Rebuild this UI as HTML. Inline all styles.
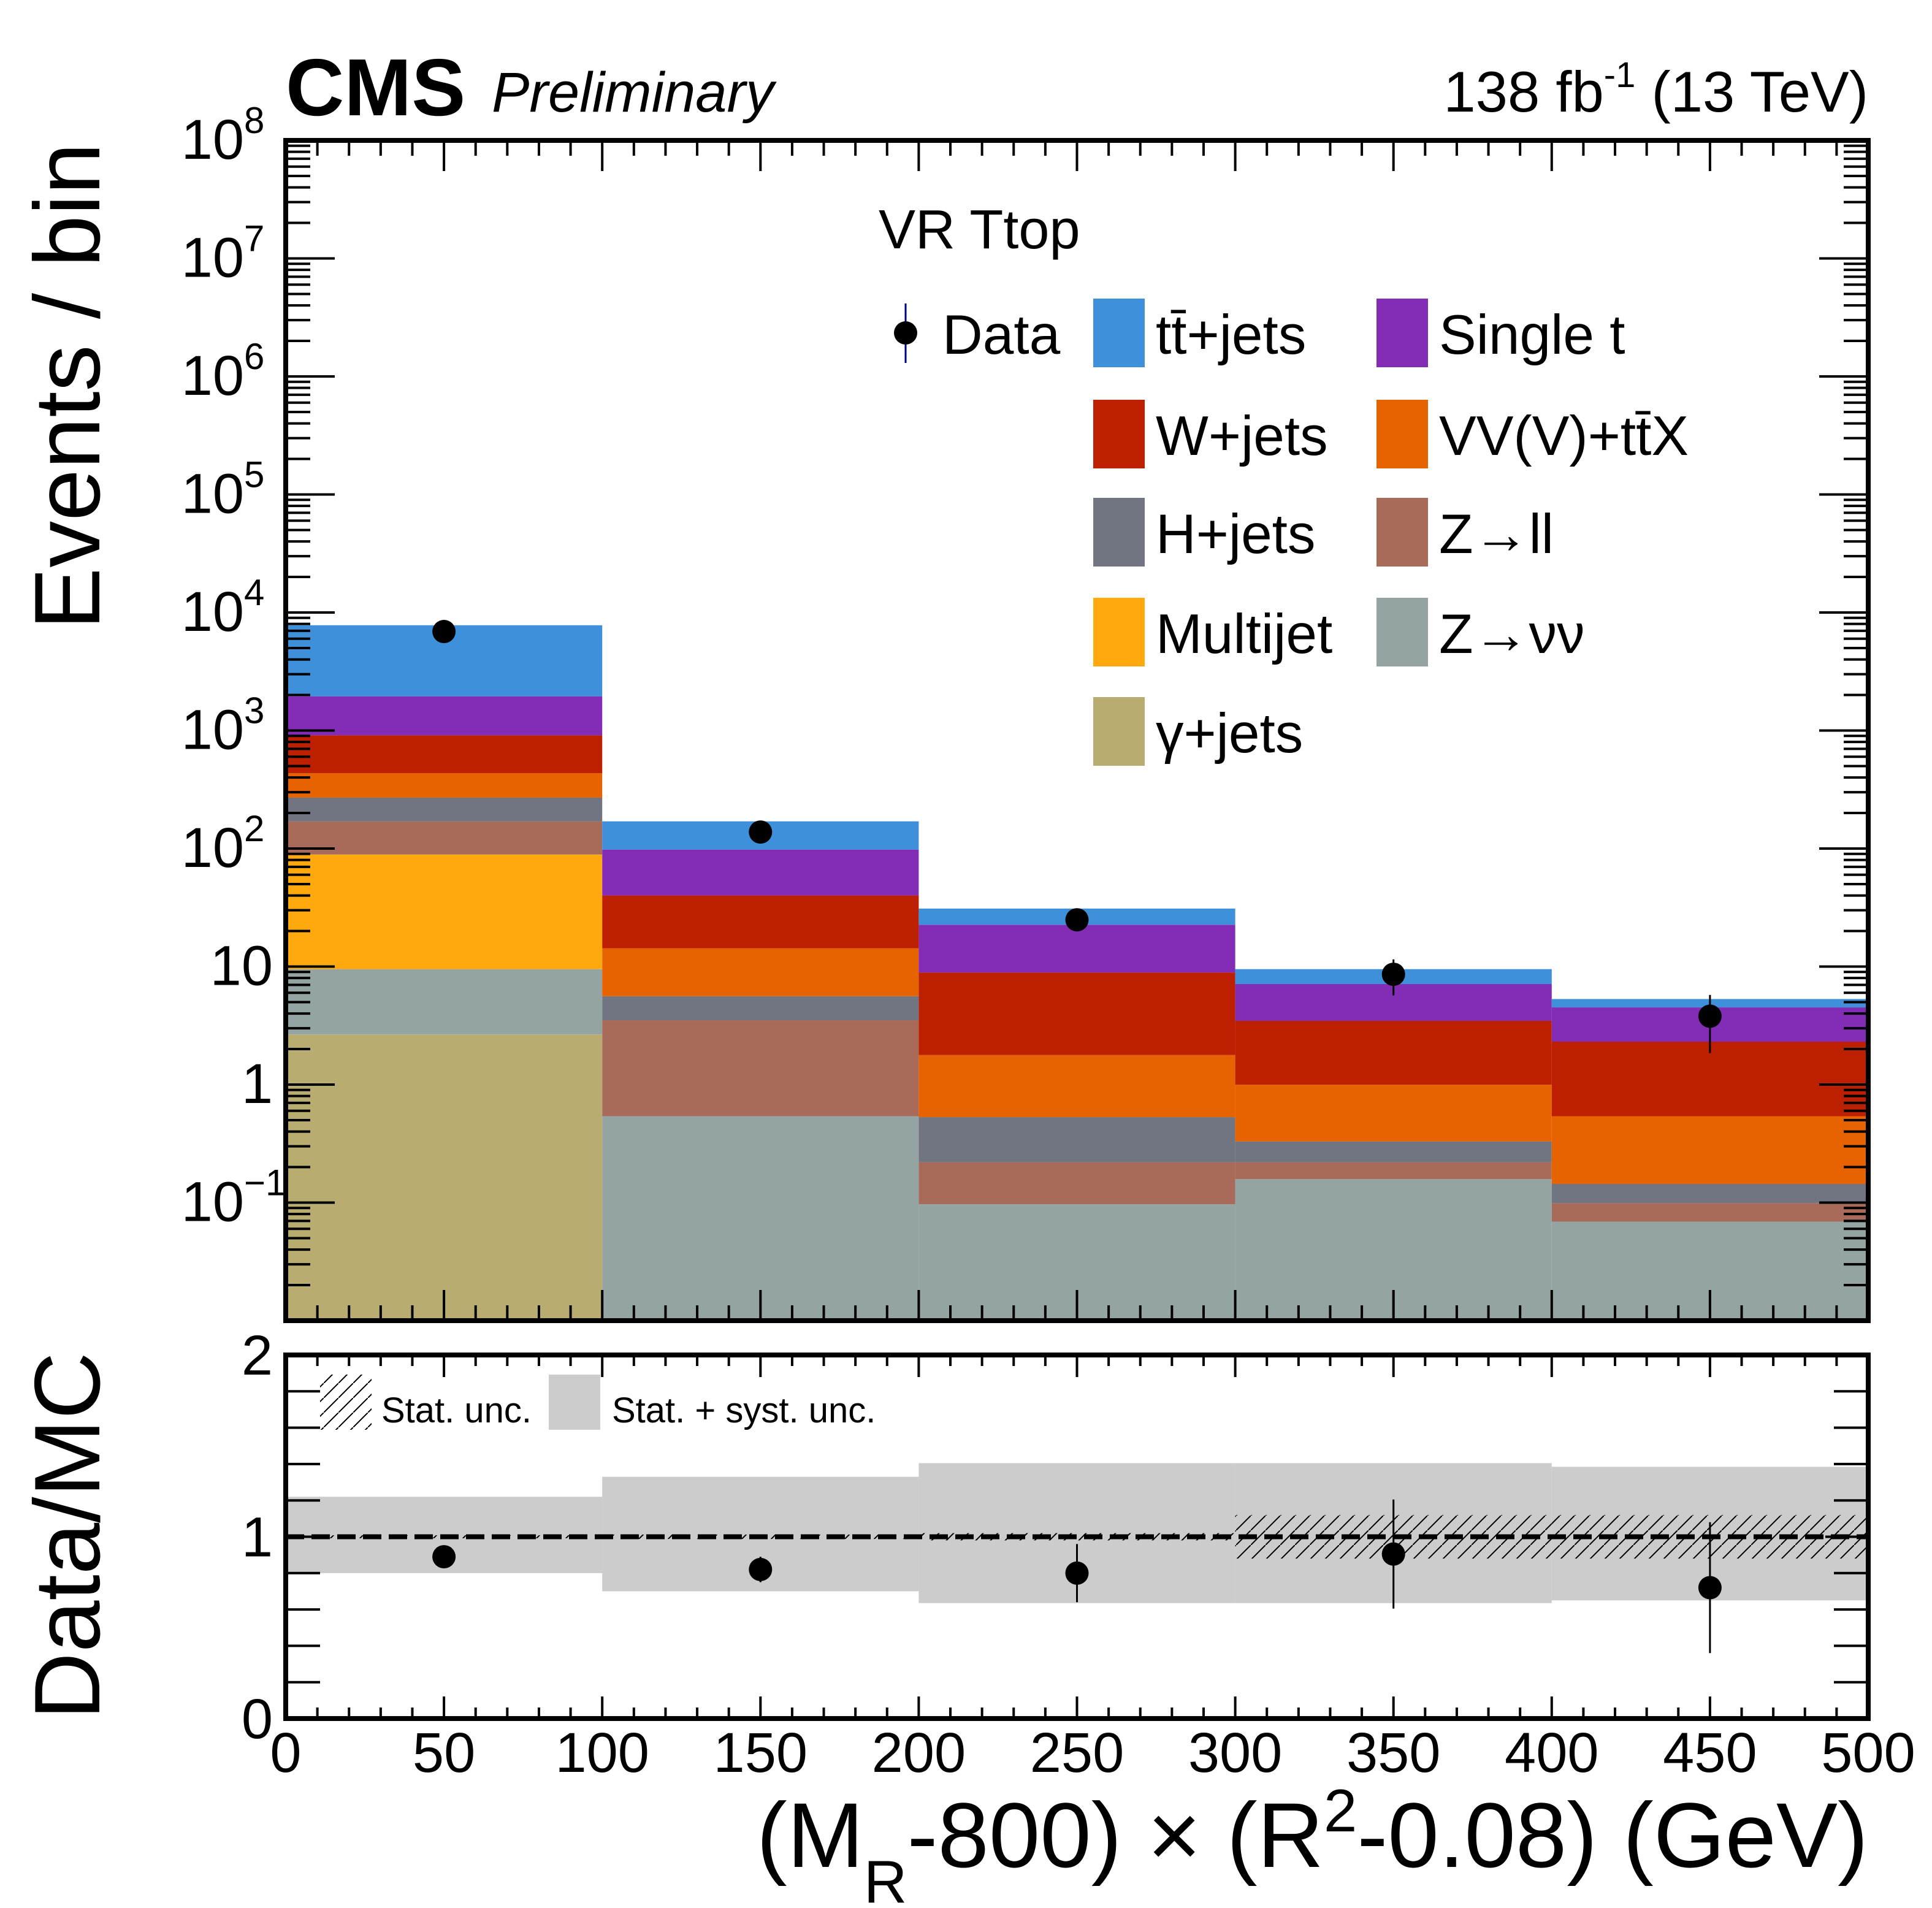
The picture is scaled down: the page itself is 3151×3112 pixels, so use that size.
<!DOCTYPE html>
<html><head><meta charset="utf-8"><style>
html,body{margin:0;padding:0;background:#fff}
svg{display:block;font-family:"Liberation Sans",sans-serif}
</style></head><body>
<svg id="c" width="3151" height="3112" viewBox="0 0 3151 3112" xmlns="http://www.w3.org/2000/svg">
<defs>
<pattern id="hatch" width="24" height="24" patternUnits="userSpaceOnUse"><path d="M0,24 L24,0" stroke="#000" stroke-width="2"/></pattern>
</defs>
<g id="main"></g>
</svg>
<script>
const binEdges=[0,100,200,300,400,500];
const xTickLabels=["0","50","100","150","200","250","300","350","400","450","500"];
const procNames=["γ+jets","Z→νν","Multijet","Z→ll","H+jets","VV(V)+tt̄X","W+jets","Single t","tt̄+jets"];
const yGamma=[2.65,0,0,0,0];
const yZnn=[6.85,0.53,0.087,0.148,0.059];
const yMulti=[79.5,0,0,0,0];
const yZll=[81,2.97,0.123,0.062,0.03];
const yH=[100,2.1,0.31,0.11,0.045];
const yVV=[165,8.7,1.25,0.67,0.396];
const yW=[475,25.7,7.13,2.47,1.77];
const ySingleT=[1040,58,13.7,3.64,2.2];
const yTT=[5850,72,8.4,2.4,0.8];
const dataVals=[6900,138,24.9,8.6,3.8];
const dataErr=[83,12,5,2.9,1.95];
const ratioVals=[0.89,0.82,0.80,0.905,0.72];
const ratioErr=[0.011,0.07,0.16,0.30,0.36];
const systUp=[1.22,1.33,1.405,1.405,1.385];
const systDn=[0.80,0.70,0.635,0.635,0.65];
const statUnc=[0.008,0.012,0.02,0.12,0.12];

const NS="http://www.w3.org/2000/svg";
const g=document.getElementById('main');
function el(t,a,txt){const e=document.createElementNS(NS,t);for(const k in a)e.setAttribute(k,a[k]);if(txt!==undefined)e.textContent=txt;g.appendChild(e);return e;}
const L=466,R=3047,T=229,B=2154,RT=2210,RB=2803;
const X=v=>L+(v-0)/(500)*(R-L);
const Y=v=>B-(Math.log10(v)+2)/10*(B-T);
const YR=v=>RB-v/2*(RB-RT);
const colors=["#b9ac70","#94a4a2","#ffa90e","#a96b59","#717581","#e76300","#bd1f01","#832db6","#3f90da"];
const series=[yGamma,yZnn,yMulti,yZll,yH,yVV,yW,ySingleT,yTT];
const keys=["gamma","znunu","multijet","zll","hjets","vv","wjets","singlet","ttjets"];
for(let b=0;b<5;b++){
  let cum=1e-2;
  for(let s=0;s<series.length;s++){
    const v=series[s][b]; if(v<=0) continue;
    const lo=cum; cum+=v; const top=cum;
    const y0=Math.min(Y(lo),B), y1=Math.max(Y(top),T);
    const r=el('rect',{x:X(binEdges[b]),y:y1,width:X(binEdges[b+1])-X(binEdges[b]),height:Math.max(0,y0-y1),fill:colors[s]});
    
    
  }
}
for(let b=0;b<5;b++){
  const cx=(X(binEdges[b])+X(binEdges[b+1]))/2;
  const e=el('line',{x1:cx,x2:cx,y1:Y(dataVals[b]+dataErr[b]),y2:Y(Math.max(dataVals[b]-dataErr[b],1e-2)),stroke:'#000',"stroke-width":3});
  
  
  const c=el('circle',{cx:cx,cy:Y(dataVals[b]),r:19,fill:'#000'});
  
  
}
for(let b=0;b<5;b++){
  const x0=X(binEdges[b]),w=X(binEdges[b+1])-x0;
  const r=el('rect',{x:x0,y:YR(systUp[b]),width:w,height:YR(systDn[b])-YR(systUp[b]),fill:'#cccccc'});
  
  
  const h=el('rect',{x:x0,y:YR(1+statUnc[b]),width:w,height:YR(1-statUnc[b])-YR(1+statUnc[b]),fill:'url(#hatch)'});
  
  
}
const dl=el('line',{x1:L,x2:R,y1:YR(1),y2:YR(1),stroke:'#000',"stroke-width":8,"stroke-dasharray":"30,12"});


for(let b=0;b<5;b++){
  const cx=(X(binEdges[b])+X(binEdges[b+1]))/2;
  const e=el('line',{x1:cx,x2:cx,y1:YR(ratioVals[b]+ratioErr[b]),y2:YR(ratioVals[b]-ratioErr[b]),stroke:'#000',"stroke-width":3});
  
  
  const c=el('circle',{cx:cx,cy:YR(ratioVals[b]),r:19,fill:'#000'});
  
  
}
function tick(x1,y1,x2,y2,w){el('line',{x1,y1,x2,y2,stroke:'#000',"stroke-width":w||4});}
for(let v=0;v<=500;v+=10){
  const x=X(v),maj=v%50===0,len=maj?50:25;
  tick(x,B,x,B-len);tick(x,T,x,T+len);
  const lr=maj?36:18;tick(x,RB,x,RB-lr);tick(x,RT,x,RT+lr);
}
for(let d=-2;d<8;d++){
  for(let m=1;m<10;m++){
    const v=m*Math.pow(10,d);const y=Y(v);if(y<T||y>B)continue;
    const len=m===1?80:40;tick(L,y,L+len,y);tick(R,y,R-len,y);
  }
}
for(let v=0;v<=2.001;v+=0.2){const y=YR(v);const maj=Math.abs(v-1)<0.01;const len=maj?70:56;tick(L,y,L+len,y);tick(R,y,R-len,y);}
const f1=el('rect',{x:L,y:T,width:R-L,height:B-T,fill:'none',stroke:'#000',"stroke-width":8});

const f2=el('rect',{x:L,y:RT,width:R-L,height:RB-RT,fill:'none',stroke:'#000',"stroke-width":8});

xTickLabels.forEach((t,i)=>{const v=i*50;const tx=el('text',{x:X(v),y:2890,"font-size":92,"text-anchor":"middle"},t);
});
const ylab=[[-1,"10","−1"],[0,"1",""],[1,"10",""],[2,"10","2"],[3,"10","3"],[4,"10","4"],[5,"10","5"],[6,"10","6"],[7,"10","7"],[8,"10","8"]];
ylab.forEach(([d,b,e])=>{const y=Y(Math.pow(10,d))+30;
 const t=el('text',{x:e?398:445,y:y,"font-size":92,"text-anchor":"end"},b);
 
 if(e){const s=el('text',{x:398,y:y-42,"font-size":60,"text-anchor":"start"},e);}
});
[[0,"0"],[1,"1"],[2,"2"]].forEach(([v,t])=>{const tx=el('text',{x:445,y:YR(v)+32,"font-size":92,"text-anchor":"end"},t);});
</script>
<svg width="3151" height="3112" style="position:absolute;left:0;top:0" xmlns="http://www.w3.org/2000/svg">
<g font-family="Liberation Sans, sans-serif">
<text x="466" y="188" font-size="132" font-weight="bold">CMS</text>
<text x="802" y="182" font-size="92" font-style="italic">Preliminary</text>
<text x="3047" y="182" font-size="94" text-anchor="end">138 fb<tspan dy="-40" font-size="58">-1</tspan><tspan dy="40"> (13 TeV)</tspan></text>
<text transform="translate(162,630) rotate(-90)" font-size="152" text-anchor="middle">Events / bin</text>
<text transform="translate(162,2505) rotate(-90)" font-size="152" text-anchor="middle">Data/MC</text>
<text x="3047" y="3045" font-size="150" text-anchor="end">(M<tspan dy="58" font-size="98">R</tspan><tspan dy="-58">-800)</tspan> × (R<tspan dy="-58" font-size="98">2</tspan><tspan dy="58">-0.08) (GeV)</tspan></text>
<text x="1433" y="405" font-size="90">VR Ttop</text>
<g font-size="91">
<line x1="1477" y1="495" x2="1477" y2="592" stroke="#00008b" stroke-width="3"/>
<circle cx="1477" cy="543" r="19" fill="#000"/>
<text x="1537" y="577">Data</text>
<rect x="1783" y="487" width="84" height="112" fill="#3f90da"/><text x="1885" y="577">tt̄+jets</text>
<rect x="2245" y="487" width="84" height="112" fill="#832db6"/><text x="2347" y="577">Single t</text>
<rect x="1783" y="652" width="84" height="112" fill="#bd1f01"/><text x="1885" y="742">W+jets</text>
<rect x="2245" y="652" width="84" height="112" fill="#e76300"/><text x="2347" y="742">VV(V)+tt̄X</text>
<rect x="1783" y="812" width="84" height="112" fill="#717581"/><text x="1885" y="902">H+jets</text>
<rect x="2245" y="812" width="84" height="112" fill="#a96b59"/><text x="2347" y="902">Z→ll</text>
<rect x="1783" y="975" width="84" height="112" fill="#ffa90e"/><text x="1885" y="1065">Multijet</text>
<rect x="2245" y="975" width="84" height="112" fill="#94a4a2"/><text x="2347" y="1065">Z→νν</text>
<rect x="1783" y="1137" width="84" height="112" fill="#b9ac70"/><text x="1885" y="1227">γ+jets</text>
</g>
<g font-size="58">
<rect x="522" y="2242" width="84" height="90" fill="url(#hatch2)"/>
<text x="622" y="2320">Stat. unc.</text>
<rect x="895" y="2242" width="84" height="90" fill="#cccccc"/>
<text x="998" y="2320">Stat. + syst. unc.</text>
</g>
<defs><pattern id="hatch2" width="24" height="24" patternUnits="userSpaceOnUse"><path d="M0,24 L24,0" stroke="#000" stroke-width="2"/></pattern></defs>
</g>
</svg>
</body></html>
